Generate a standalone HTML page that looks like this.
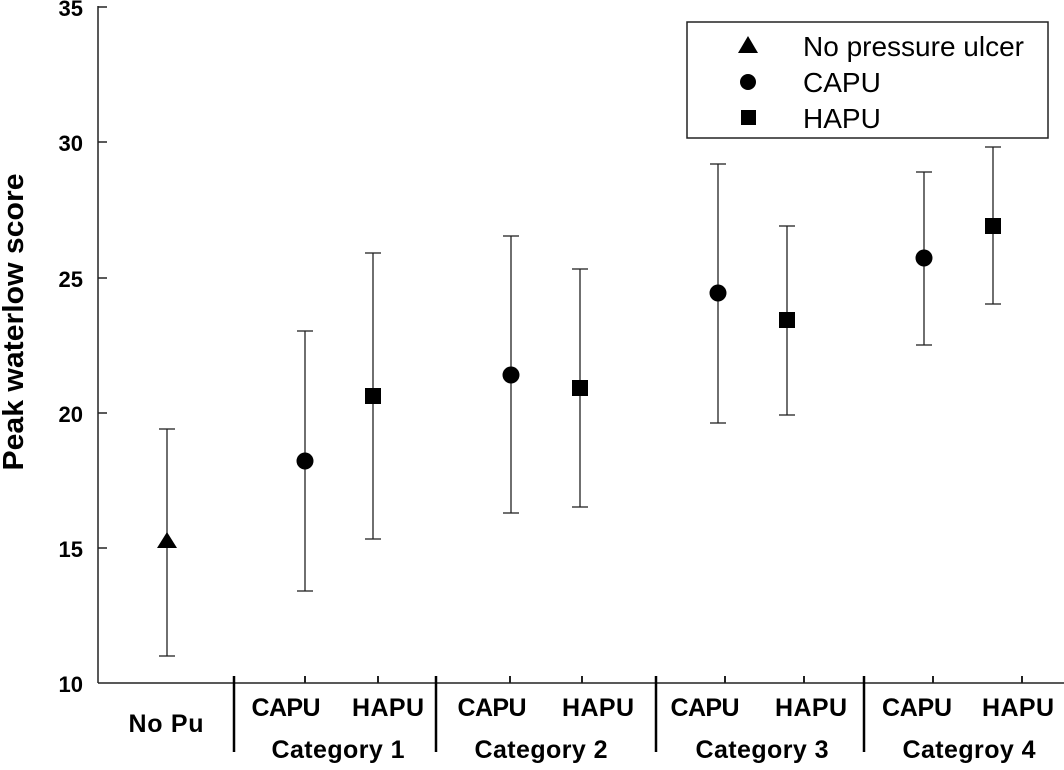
<!DOCTYPE html>
<html><head><style>body{margin:0;background:#fff}</style></head><body>
<svg width="1064" height="765" xmlns="http://www.w3.org/2000/svg" font-family="Liberation Sans, Arial, sans-serif">
<g stroke="#222" stroke-width="1.5" fill="none">
<line x1="98" y1="6" x2="98" y2="683"/>
<line x1="98" y1="683" x2="1064" y2="683"/>
<line x1="98" y1="7" x2="107" y2="7"/><line x1="98" y1="142" x2="107" y2="142"/><line x1="98" y1="278" x2="107" y2="278"/><line x1="98" y1="413" x2="107" y2="413"/><line x1="98" y1="548" x2="107" y2="548"/>
</g>
<g stroke="#000" stroke-width="2.5">
<line x1="234" y1="676" x2="234" y2="752"/><line x1="436" y1="676" x2="436" y2="752"/><line x1="656" y1="676" x2="656" y2="752"/><line x1="864" y1="676" x2="864" y2="752"/>
</g>
<g stroke="#222" stroke-width="2">
<line x1="305" y1="676" x2="305" y2="683"/><line x1="378" y1="676" x2="378" y2="683"/><line x1="510" y1="676" x2="510" y2="683"/><line x1="582" y1="676" x2="582" y2="683"/><line x1="725" y1="676" x2="725" y2="683"/><line x1="804" y1="676" x2="804" y2="683"/><line x1="933" y1="676" x2="933" y2="683"/><line x1="1022" y1="676" x2="1022" y2="683"/>
</g>
<g font-size="22" font-weight="bold" text-anchor="end" fill="#000">
<text x="83" y="16">35</text><text x="83" y="151">30</text><text x="83" y="287">25</text><text x="83" y="422">20</text><text x="83" y="557">15</text><text x="83" y="692">10</text>
</g>
<text transform="translate(23,322) rotate(-90)" font-size="29" font-weight="bold" text-anchor="middle" textLength="297" lengthAdjust="spacingAndGlyphs">Peak waterlow score</text>
<g font-size="25" font-weight="bold" text-anchor="middle" lengthAdjust="spacingAndGlyphs">
<text x="166" y="732" textLength="75">No Pu</text>
<text x="286" y="716" textLength="69">CAPU</text><text x="388" y="716" textLength="72">HAPU</text>
<text x="492" y="716" textLength="69">CAPU</text><text x="598" y="716" textLength="72">HAPU</text>
<text x="705" y="716" textLength="69">CAPU</text><text x="811" y="716" textLength="72">HAPU</text>
<text x="917" y="716" textLength="70">CAPU</text><text x="1018" y="716" textLength="72">HAPU</text>
<text x="338" y="758" textLength="133">Category 1</text><text x="541" y="758" textLength="133">Category 2</text><text x="762" y="758" textLength="133">Category 3</text><text x="969" y="758" textLength="133">Categroy 4</text>
</g>
<g stroke="#222" stroke-width="1.3">
<line x1="167" y1="429" x2="167" y2="656"/><line x1="159" y1="429" x2="175" y2="429"/><line x1="159" y1="656" x2="175" y2="656"/>
<line x1="305" y1="331" x2="305" y2="591"/><line x1="297" y1="331" x2="313" y2="331"/><line x1="297" y1="591" x2="313" y2="591"/>
<line x1="373" y1="253" x2="373" y2="539"/><line x1="365" y1="253" x2="381" y2="253"/><line x1="365" y1="539" x2="381" y2="539"/>
<line x1="511" y1="236" x2="511" y2="513"/><line x1="503" y1="236" x2="519" y2="236"/><line x1="503" y1="513" x2="519" y2="513"/>
<line x1="580" y1="269" x2="580" y2="507"/><line x1="572" y1="269" x2="588" y2="269"/><line x1="572" y1="507" x2="588" y2="507"/>
<line x1="718" y1="164" x2="718" y2="423"/><line x1="710" y1="164" x2="726" y2="164"/><line x1="710" y1="423" x2="726" y2="423"/>
<line x1="787" y1="226" x2="787" y2="415"/><line x1="779" y1="226" x2="795" y2="226"/><line x1="779" y1="415" x2="795" y2="415"/>
<line x1="924" y1="172" x2="924" y2="345"/><line x1="916" y1="172" x2="932" y2="172"/><line x1="916" y1="345" x2="932" y2="345"/>
<line x1="993" y1="147" x2="993" y2="304"/><line x1="985" y1="147" x2="1001" y2="147"/><line x1="985" y1="304" x2="1001" y2="304"/>
</g>
<g fill="#000">
<polygon points="167,532 177,548 157,548"/>
<circle cx="305" cy="461" r="8.5"/>
<rect x="365" y="388" width="16" height="16"/>
<circle cx="511" cy="375" r="8.5"/>
<rect x="572" y="380" width="16" height="16"/>
<circle cx="718" cy="293" r="8.5"/>
<rect x="779" y="312" width="16" height="16"/>
<circle cx="924" cy="258" r="8.5"/>
<rect x="985" y="218" width="16" height="16"/>
</g>
<rect x="687" y="22" width="361" height="116" fill="#fff" stroke="#222" stroke-width="1.5"/>
<g fill="#000">
<polygon points="748,36 758,53 738,53"/>
<circle cx="748" cy="82" r="8"/>
<rect x="741" y="110" width="15" height="15"/>
</g>
<g font-size="28">
<text x="803" y="56">No pressure ulcer</text><text x="803" y="92">CAPU</text><text x="803" y="128">HAPU</text>
</g>
</svg>
</body></html>
